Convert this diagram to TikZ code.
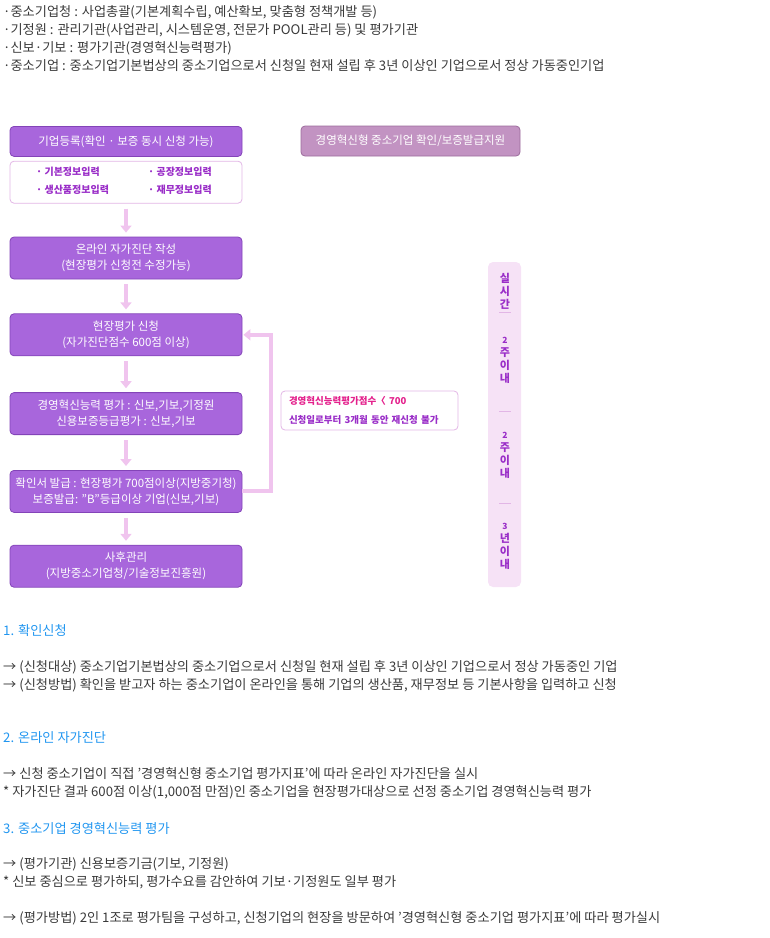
\documentclass[tikz,border=0pt]{standalone}
\usepackage{fontspec}
\setmainfont{Noto Sans CJK KR}
\usepackage{xcolor}
\usetikzlibrary{arrows.meta, positioning}

\definecolor{boxpurple}{HTML}{A866DC}
\definecolor{boxedge}{HTML}{8344B8}
\definecolor{mauve}{HTML}{C293C2}
\definecolor{mauveedge}{HTML}{9C6C9C}
\definecolor{arrowpink}{HTML}{F0C4EE}
\definecolor{notepink}{HTML}{E2B6E6}
\definecolor{barpink}{HTML}{F6E2F6}
\definecolor{itempurple}{HTML}{9A2EC8}
\definecolor{scorered}{HTML}{E4208C}
\definecolor{headblue}{HTML}{2196F0}
\definecolor{bodygray}{HTML}{3A3A3A}

\begin{document}
\begin{tikzpicture}[x=1pt,y=-1pt]
		\tikzset{
			node distance=34pt and 20pt,
			stage/.style={rectangle, draw=boxedge, fill=boxpurple, text=white, align=center,
			font=\fontsize{11.5}{16}\selectfont, minimum width=232pt, minimum height=42pt,
			inner sep=0pt, rounded corners=4pt, line width=0.8pt},
			infobox/.style={rectangle, draw=notepink, fill=white, minimum width=232pt,
			minimum height=42pt, inner sep=0pt, rounded corners=4pt, line width=0.8pt},
			item/.style={anchor=west, inner sep=0pt, text=itempurple, font=\fontsize{10}{12}\selectfont\bfseries},
			flow/.style={draw=arrowpink, line width=4pt, -{Triangle[width=11pt,length=7pt]},
			shorten <=5pt, shorten >=4pt},
			body/.style={anchor=west, inner sep=0pt, text=bodygray, font=\fontsize{13.2}{15}\selectfont},
			heading/.style={body, text=headblue},
			bartext/.style={align=center, inner sep=0pt, text=itempurple, font=\fontsize{11}{13}\selectfont\bfseries},
			bardash/.style={draw=notepink, line width=0.7pt}
		}
		\useasboundingbox (0,0) rectangle (770,938);

		% roles
		\node[body] (roleSmba) at (3,12) {·중소기업청 : 사업총괄(기본계획수립, 예산확보, 맞춤형 정책개발 등)};
		\node[body] (roleTipa) at (3,30) {·기정원 : 관리기관(사업관리, 시스템운영, 전문가 POOL관리 등) 및 평가기관};
		\node[body] (roleKodit) at (3,48) {·신보·기보 : 평가기관(경영혁신능력평가)};
		\node[body] (roleSme) at (3,66) {·중소기업 : 중소기업기본법상의 중소기업으로서 신청일 현재 설립 후 3년 이상인 기업으로서 정상 가동중인기업};

		% flow
		\node[stage, minimum height=30pt, anchor=north](reg) at (126,126){기업등록(확인 · 보증 동시 신청 가능)};
		\node[infobox, below=4pt of reg](info){};
		\node[item] (basic) at ([xshift=-90pt,yshift=10pt]info.center) {· 기본정보입력};
		\node[item] (factory) at ([xshift=22pt,yshift=10pt]info.center) {· 공장정보입력};
		\node[item] (product) at ([xshift=-90pt,yshift=-8pt]info.center) {· 생산품정보입력};
		\node[item] (finance) at ([xshift=22pt,yshift=-8pt]info.center) {· 재무정보입력};
		\node[stage, below=33pt of info](diag){온라인 자가진단 작성\\(현장평가 신청전 수정가능)};
		\node[stage, below=of diag](apply){현장평가 신청\\(자가진단점수 600점 이상)};
		\node[stage, below=36pt of apply](eval){경영혁신능력 평가 : 신보,기보,기정원\\신용보증등급평가 : 신보,기보};
		\node[stage, below=35pt of eval](issue){확인서 발급 : 현장평가 700점이상(지방중기청)\\보증발급: "B"등급이상 기업(신보,기보)};
		\node[stage, below=32pt of issue](after){사후관리\\(지방중소기업청/기술정보진흥원)};

		\draw[flow](info) -- (diag);
		\draw[flow](diag) -- (apply);
		\draw[flow](apply) -- (eval);
		\draw[flow](eval) -- (issue);
		\draw[flow](issue) -- (after);
		\draw[flow, shorten <=0pt, shorten >=1pt](issue.east) -- ++(29pt,0) |- (apply.east);

		\node[stage, draw=mauveedge, fill=mauve, minimum width=219pt, minimum height=30pt](support) at (410.5,141){경영혁신형 중소기업 확인/보증발급지원};
		\node[infobox, minimum width=177pt, minimum height=39pt, align=left, text width=161pt, inner xsep=8pt,
			font=\fontsize{9.5}{19}\selectfont\bfseries](fail) at (369.5,410.5)
			{{\color{scorered}경영혁신능력평가점수〈 700}\\{\color{itempurple}신청일로부터 3개월 동안 재신청 불가}};

		% time bar
		\node[rectangle, fill=barpink, rounded corners=5pt, minimum width=33pt, minimum height=325pt](period) at (504.5,424.5){};
		\node[bartext](realtime) at (505,291){실\\시\\간};
		\node[bartext](weeksA) at (505,360){{\fontsize{8.5}{9}\selectfont 2}\\주\\이\\내};
		\node[bartext](weeksB) at (505,455){{\fontsize{8.5}{9}\selectfont 2}\\주\\이\\내};
		\node[bartext](years) at (505,546){{\fontsize{8.5}{9}\selectfont 3}\\년\\이\\내};
		\draw[bardash] (499,312) -- (511,312);
		\draw[bardash] (499,411) -- (511,411);
		\draw[bardash] (499,503) -- (511,503);

		% notes
		\node[heading] (h1) at (3,631) {1. 확인신청};
		\node[body] (h1a) at (3,667) {→ (신청대상) 중소기업기본법상의 중소기업으로서 신청일 현재 설립 후 3년 이상인 기업으로서 정상 가동중인 기업};
		\node[body] (h1b) at (3,685) {→ (신청방법) 확인을 받고자 하는 중소기업이 온라인을 통해 기업의 생산품, 재무정보 등 기본사항을 입력하고 신청};
		\node[heading] (h2) at (3,738) {2. 온라인 자가진단};
		\node[body] (h2a) at (3,774) {→ 신청 중소기업이 직접 '경영혁신형 중소기업 평가지표'에 따라 온라인 자가진단을 실시};
		\node[body] (h2b) at (3,792) {* 자가진단 결과 600점 이상(1,000점 만점)인 중소기업을 현장평가대상으로 선정 중소기업 경영혁신능력 평가};
		\node[heading] (h3) at (3,828) {3. 중소기업 경영혁신능력 평가};
		\node[body] (h3a) at (3,864) {→ (평가기관) 신용보증기금(기보, 기정원)};
		\node[body] (h3b) at (3,882) {* 신보 중심으로 평가하되, 평가수요를 감안하여 기보·기정원도 일부 평가};
		\node[body] (h3c) at (3,918) {→ (평가방법) 2인 1조로 평가팀을 구성하고, 신청기업의 현장을 방문하여 '경영혁신형 중소기업 평가지표'에 따라 평가실시};
	\end{tikzpicture}
\end{document}
